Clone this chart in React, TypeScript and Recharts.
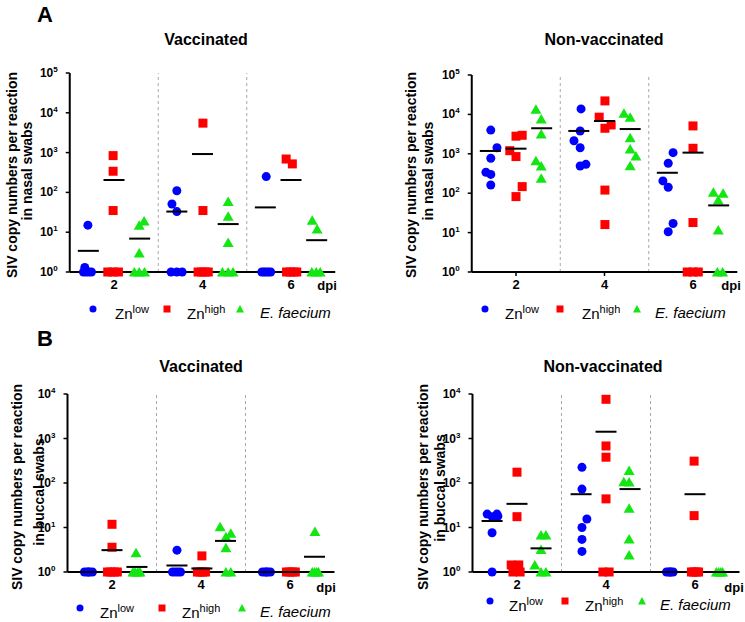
import { ScatterChart, Scatter, XAxis, YAxis, ReferenceLine } from 'recharts';

const font = "'Liberation Sans', Arial, Helvetica, sans-serif";
const BLUE = '#0000ff';
const RED = '#ff0000';
const GREEN = '#14e614';

const dpiTicks = [2, 4, 6];
const groupBreaks = [3, 5];
const nasalTicks = [1, 10, 100, 1000, 10000, 100000];
const buccalTicks = [1, 10, 100, 1000, 10000];
const yLabelTop = 'SIV copy numbers per reaction';
const yLabelNasal = 'in nasal swabs';
const yLabelBuccal = 'in buccal swabs';
const seriesNames = ['low', 'high', 'E. faecium'];

// A, vaccinated (nasal swabs)
const nasalVacLow = [
  { dpi: 1.34, copies: 1.3 }, { dpi: 1.41, copies: 15 }, { dpi: 1.31, copies: 1 }, { dpi: 1.37, copies: 1 }, { dpi: 1.43, copies: 1 }, { dpi: 1.49, copies: 1 },
  { dpi: 3.31, copies: 51 }, { dpi: 3.42, copies: 110 }, { dpi: 3.42, copies: 33 }, { dpi: 3.29, copies: 1 }, { dpi: 3.42, copies: 1 }, { dpi: 3.54, copies: 1 },
  { dpi: 5.44, copies: 250 }, { dpi: 5.34, copies: 1 }, { dpi: 5.39, copies: 1 }, { dpi: 5.44, copies: 1 }, { dpi: 5.49, copies: 1 }, { dpi: 5.54, copies: 1 },
];
const nasalVacHigh = [
  { dpi: 1.98, copies: 840 }, { dpi: 1.98, copies: 340 }, { dpi: 1.98, copies: 35 }, { dpi: 1.86, copies: 1 }, { dpi: 1.98, copies: 1 }, { dpi: 2.1, copies: 1 },
  { dpi: 4.01, copies: 5500 }, { dpi: 4.01, copies: 35 }, { dpi: 3.9, copies: 1 }, { dpi: 3.98, copies: 1 }, { dpi: 4.06, copies: 1 }, { dpi: 4.13, copies: 1 },
  { dpi: 5.89, copies: 690 }, { dpi: 6.03, copies: 520 }, { dpi: 5.9, copies: 1 }, { dpi: 5.98, copies: 1 }, { dpi: 6.06, copies: 1 }, { dpi: 6.13, copies: 1 },
];
const nasalVacFae = [
  { dpi: 2.57, copies: 3 }, { dpi: 2.57, copies: 15 }, { dpi: 2.68, copies: 19 }, { dpi: 2.46, copies: 1 }, { dpi: 2.57, copies: 1 }, { dpi: 2.69, copies: 1 },
  { dpi: 4.58, copies: 59 }, { dpi: 4.58, copies: 25 }, { dpi: 4.58, copies: 5.5 }, { dpi: 4.45, copies: 1 }, { dpi: 4.58, copies: 1 }, { dpi: 4.69, copies: 1 },
  { dpi: 6.48, copies: 20 }, { dpi: 6.59, copies: 12 }, { dpi: 6.47, copies: 1 }, { dpi: 6.57, copies: 1 }, { dpi: 6.66, copies: 1 },
];
const nasalVacMed = [
  { dpi: 1.42, copies: 3.4 }, { dpi: 2, copies: 205 }, { dpi: 2.58, copies: 6.9 },
  { dpi: 3.42, copies: 33 }, { dpi: 4, copies: 920 }, { dpi: 4.58, copies: 16 },
  { dpi: 5.42, copies: 42 }, { dpi: 6, copies: 205 }, { dpi: 6.58, copies: 6.3 },
];

// A, non-vaccinated (nasal swabs)
const nasalNonLow = [
  { dpi: 1.43, copies: 4000 }, { dpi: 1.57, copies: 1420 }, { dpi: 1.43, copies: 770 }, { dpi: 1.32, copies: 340 }, { dpi: 1.43, copies: 300 }, { dpi: 1.43, copies: 162 },
  { dpi: 3.47, copies: 13800 }, { dpi: 3.45, copies: 3800 }, { dpi: 3.31, copies: 2150 }, { dpi: 3.45, copies: 1420 }, { dpi: 3.45, copies: 490 }, { dpi: 3.58, copies: 540 },
  { dpi: 5.55, copies: 1070 }, { dpi: 5.44, copies: 575 }, { dpi: 5.32, copies: 205 }, { dpi: 5.44, copies: 142 }, { dpi: 5.55, copies: 17 }, { dpi: 5.44, copies: 10.5 },
];
const nasalNonHigh = [
  { dpi: 2, copies: 2800 }, { dpi: 2.14, copies: 2950 }, { dpi: 1.86, copies: 1200 }, { dpi: 2, copies: 850 }, { dpi: 2.14, copies: 147 }, { dpi: 2, copies: 82 },
  { dpi: 4.01, copies: 22000 }, { dpi: 3.88, copies: 8500 }, { dpi: 4.01, copies: 4450 }, { dpi: 4.15, copies: 5400 }, { dpi: 4.01, copies: 120 }, { dpi: 4.01, copies: 16 },
  { dpi: 6, copies: 5100 }, { dpi: 6, copies: 1380 }, { dpi: 6, copies: 18 }, { dpi: 5.87, copies: 1 }, { dpi: 6, copies: 1 }, { dpi: 6.12, copies: 1 },
];
const nasalNonFae = [
  { dpi: 2.45, copies: 13500 }, { dpi: 2.57, copies: 7600 }, { dpi: 2.57, copies: 3200 }, { dpi: 2.45, copies: 670 }, { dpi: 2.57, copies: 490 }, { dpi: 2.57, copies: 240 },
  { dpi: 4.44, copies: 10700 }, { dpi: 4.58, copies: 8500 }, { dpi: 4.58, copies: 2550 }, { dpi: 4.58, copies: 1320 }, { dpi: 4.71, copies: 880 }, { dpi: 4.58, copies: 500 },
  { dpi: 6.46, copies: 105 }, { dpi: 6.68, copies: 100 }, { dpi: 6.57, copies: 67 }, { dpi: 6.57, copies: 11.7 }, { dpi: 6.55, copies: 1 }, { dpi: 6.67, copies: 1 },
];
const nasalNonMed = [
  { dpi: 1.42, copies: 1180 }, { dpi: 2, copies: 1350 }, { dpi: 2.58, copies: 4450 },
  { dpi: 3.42, copies: 3800 }, { dpi: 4, copies: 6800 }, { dpi: 4.58, copies: 4250 },
  { dpi: 5.42, copies: 330 }, { dpi: 6, copies: 1070 }, { dpi: 6.58, copies: 49 },
];

// B, vaccinated (buccal swabs)
const buccalVacLow = [
  { dpi: 1.38, copies: 1 }, { dpi: 1.44, copies: 1 }, { dpi: 1.5, copies: 1 }, { dpi: 1.56, copies: 1 }, { dpi: 1.47, copies: 1 },
  { dpi: 3.46, copies: 3.1 }, { dpi: 3.36, copies: 1 }, { dpi: 3.42, copies: 1 }, { dpi: 3.48, copies: 1 }, { dpi: 3.54, copies: 1 },
  { dpi: 5.38, copies: 1 }, { dpi: 5.44, copies: 1 }, { dpi: 5.5, copies: 1 }, { dpi: 5.56, copies: 1 }, { dpi: 5.47, copies: 1 },
];
const buccalVacHigh = [
  { dpi: 2, copies: 11.8 }, { dpi: 2, copies: 3.6 }, { dpi: 1.9, copies: 1 }, { dpi: 1.97, copies: 1 }, { dpi: 2.05, copies: 1 }, { dpi: 2.12, copies: 1 },
  { dpi: 4.02, copies: 2.3 }, { dpi: 3.92, copies: 1 }, { dpi: 3.98, copies: 1 }, { dpi: 4.04, copies: 1 }, { dpi: 4.1, copies: 1 },
  { dpi: 5.92, copies: 1 }, { dpi: 5.99, copies: 1 }, { dpi: 6.06, copies: 1 }, { dpi: 6.12, copies: 1 },
];
const buccalVacFae = [
  { dpi: 2.54, copies: 2.7 }, { dpi: 2.47, copies: 1 }, { dpi: 2.52, copies: 1 }, { dpi: 2.58, copies: 1 }, { dpi: 2.63, copies: 1 },
  { dpi: 4.43, copies: 10.4 }, { dpi: 4.56, copies: 6.2 }, { dpi: 4.67, copies: 7.4 }, { dpi: 4.56, copies: 3.5 }, { dpi: 4.56, copies: 1 }, { dpi: 4.67, copies: 1 },
  { dpi: 6.56, copies: 8.1 }, { dpi: 6.5, copies: 1 }, { dpi: 6.55, copies: 1 }, { dpi: 6.6, copies: 1 }, { dpi: 6.64, copies: 1 },
];
const buccalVacMed = [
  { dpi: 1.42, copies: 1 }, { dpi: 2, copies: 3.1 }, { dpi: 2.56, copies: 1.3 },
  { dpi: 3.46, copies: 1.4 }, { dpi: 4.02, copies: 1.2 }, { dpi: 4.55, copies: 5 },
  { dpi: 5.42, copies: 1 }, { dpi: 6, copies: 1 }, { dpi: 6.55, copies: 2.2 },
];

// B, non-vaccinated (buccal swabs)
const buccalNonLow = [
  { dpi: 1.33, copies: 20 }, { dpi: 1.44, copies: 17.5 }, { dpi: 1.55, copies: 20 }, { dpi: 1.57, copies: 18 }, { dpi: 1.44, copies: 7.6 }, { dpi: 1.44, copies: 1 },
  { dpi: 3.46, copies: 225 }, { dpi: 3.46, copies: 73 }, { dpi: 3.57, copies: 15.5 }, { dpi: 3.46, copies: 10 }, { dpi: 3.46, copies: 5.4 }, { dpi: 3.46, copies: 2.9 },
  { dpi: 5.36, copies: 1 }, { dpi: 5.41, copies: 1 }, { dpi: 5.46, copies: 1 }, { dpi: 5.51, copies: 1 }, { dpi: 5.44, copies: 1 },
];
const buccalNonHigh = [
  { dpi: 2, copies: 175 }, { dpi: 2, copies: 17.5 }, { dpi: 1.87, copies: 1.44 }, { dpi: 2.04, copies: 1.44 }, { dpi: 1.91, copies: 1 }, { dpi: 2.07, copies: 1 },
  { dpi: 4, copies: 7600 }, { dpi: 4, copies: 680 }, { dpi: 4, copies: 380 }, { dpi: 4, copies: 44 }, { dpi: 3.93, copies: 1 }, { dpi: 4.07, copies: 1 },
  { dpi: 5.98, copies: 310 }, { dpi: 5.98, copies: 18.5 }, { dpi: 5.92, copies: 1 }, { dpi: 5.97, copies: 1 }, { dpi: 6.03, copies: 1 }, { dpi: 6.08, copies: 1 },
];
const buccalNonFae = [
  { dpi: 2.54, copies: 6.8 }, { dpi: 2.65, copies: 6.8 }, { dpi: 2.54, copies: 3.2 }, { dpi: 2.4, copies: 1.44 }, { dpi: 2.54, copies: 1 }, { dpi: 2.65, copies: 1 },
  { dpi: 4.52, copies: 190 }, { dpi: 4.4, copies: 107 }, { dpi: 4.52, copies: 105 }, { dpi: 4.52, copies: 27 }, { dpi: 4.52, copies: 5.5 }, { dpi: 4.52, copies: 2.4 },
  { dpi: 6.48, copies: 1 }, { dpi: 6.53, copies: 1 }, { dpi: 6.58, copies: 1 }, { dpi: 6.62, copies: 1 },
];
const buccalNonMed = [
  { dpi: 1.44, copies: 14 }, { dpi: 2, copies: 34 }, { dpi: 2.54, copies: 3.4 },
  { dpi: 3.44, copies: 56 }, { dpi: 4, copies: 1420 }, { dpi: 4.54, copies: 73 },
  { dpi: 5.42, copies: 1 }, { dpi: 6, copies: 56 }, { dpi: 6.58, copies: 1 },
];

const circleShape = (p: any) => <circle cx={p.cx} cy={p.cy} r={4.5} fill={BLUE} />;
const squareShape = (p: any) => <rect x={p.cx - 4.5} y={p.cy - 4.5} width={9} height={9} fill={RED} />;
const triangleShape = (p: any) => (
  <polygon points={`${p.cx},${p.cy - 5} ${p.cx + 5.5},${p.cy + 4.5} ${p.cx - 5.5},${p.cy + 4.5}`} fill={GREEN} />
);
const barShape = (p: any) => (
  <line x1={p.cx - 10.5} x2={p.cx + 10.5} y1={p.cy} y2={p.cy} stroke="#000" strokeWidth={2} />
);

function PowTick(props: any) {
  const { x, y, payload } = props;
  const exp = Math.round(Math.log10(payload.value));
  return (
    <text x={x} y={y} textAnchor="end" fill="#000" fontFamily={font} fontWeight={700} fontSize={12}>
      <tspan dy={4}>10</tspan>
      <tspan dy={-5} fontSize={8}>{exp}</tspan>
    </text>
  );
}

function Panel({ left, top, width, height, margin, ticks, low, high, fae, med }: any) {
  return (
    <div style={{ position: 'absolute', left, top }}>
      <ScatterChart width={width} height={height} margin={margin}>
        <XAxis
          type="number"
          dataKey="dpi"
          domain={[1, 7]}
          ticks={dpiTicks}
          height={20}
          axisLine={{ stroke: '#000', strokeWidth: 2 }}
          tickLine={{ stroke: '#000', strokeWidth: 1.5 }}
          tickSize={4}
          tickMargin={4}
          tick={{ fill: '#000', fontSize: 13, fontWeight: 700, fontFamily: font }}
        />
        <YAxis
          type="number"
          dataKey="copies"
          scale="log"
          domain={[1, ticks[ticks.length - 1]]}
          ticks={ticks}
          width={60}
          axisLine={{ stroke: '#000', strokeWidth: 2 }}
          tickLine={{ stroke: '#000', strokeWidth: 1.5 }}
          tickSize={4}
          tickMargin={8}
          tick={(p: any) => <PowTick {...p} />}
        />
        {groupBreaks.map((b) => (
          <ReferenceLine key={b} x={b} stroke="#a8a8a8" strokeDasharray="3 3" />
        ))}
        <Scatter data={low} shape={circleShape} isAnimationActive={false} />
        <Scatter data={high} shape={squareShape} isAnimationActive={false} />
        <Scatter data={fae} shape={triangleShape} isAnimationActive={false} />
        <Scatter data={med} shape={barShape} isAnimationActive={false} />
      </ScatterChart>
    </div>
  );
}

function Txt({ x, y, size, bold, italic, rotate, align = 'center', children }: any) {
  const tx = align === 'center' ? '-50%' : '0';
  return (
    <div
      style={{
        position: 'absolute', left: x, top: y, fontSize: size, lineHeight: 1,
        fontWeight: bold ? 700 : 400, fontStyle: italic ? 'italic' : 'normal',
        whiteSpace: 'nowrap', color: '#000',
        transform: `translate(${tx}, -50%)${rotate ? ' rotate(-90deg)' : ''}`,
      }}
    >
      {children}
    </div>
  );
}

function Key({ xs, y }: any) {
  const my = y - 3;
  return (
    <>
      <svg style={{ position: 'absolute', left: 0, top: 0, overflow: 'visible' }} width={1} height={1}>
        <circle cx={xs[0]} cy={my} r={3.5} fill={BLUE} />
        <rect x={xs[2] - 3.5} y={my - 3.5} width={7} height={7} fill={RED} />
        <polygon points={`${xs[4]},${my - 4} ${xs[4] + 4},${my + 3.5} ${xs[4] - 4},${my + 3.5}`} fill={GREEN} />
      </svg>
      <Txt x={xs[1]} y={y} size={15} align="left">Zn<sup style={{ fontSize: 11 }}>{seriesNames[0]}</sup></Txt>
      <Txt x={xs[3]} y={y} size={15} align="left">Zn<sup style={{ fontSize: 11 }}>{seriesNames[1]}</sup></Txt>
      <Txt x={xs[5]} y={y} size={15} italic align="left">{seriesNames[2]}</Txt>
    </>
  );
}

export default function App() {
  return (
    <div style={{ position: 'absolute', left: 0, top: 0, width: 745, height: 622, background: '#fff', fontFamily: font, overflow: 'hidden' }}>
      <Panel left={0} top={0} width={372} height={300} margin={{ top: 73, right: 36.75, bottom: 8, left: 9.75 }}
        ticks={nasalTicks} low={nasalVacLow} high={nasalVacHigh} fae={nasalVacFae} med={nasalVacMed} />
      <Panel left={372} top={0} width={373} height={300} margin={{ top: 75, right: 7.75, bottom: 8, left: 39.75 }}
        ticks={nasalTicks} low={nasalNonLow} high={nasalNonHigh} fae={nasalNonFae} med={nasalNonMed} />
      <Panel left={0} top={311} width={372} height={300} margin={{ top: 83, right: 37.5, bottom: 19, left: 7.5 }}
        ticks={buccalTicks} low={buccalVacLow} high={buccalVacHigh} fae={buccalVacFae} med={buccalVacMed} />
      <Panel left={372} top={311} width={373} height={300} margin={{ top: 83, right: 5.5, bottom: 19, left: 40.5 }}
        ticks={buccalTicks} low={buccalNonLow} high={buccalNonHigh} fae={buccalNonFae} med={buccalNonMed} />

      <Txt x={45} y={15} size={22} bold>A</Txt>
      <Txt x={45} y={339} size={22} bold>B</Txt>

      <Txt x={206} y={40} size={16} bold>Vaccinated</Txt>
      <Txt x={604} y={40} size={16} bold>Non-vaccinated</Txt>
      <Txt x={201} y={367} size={16} bold>Vaccinated</Txt>
      <Txt x={603} y={367} size={16} bold>Non-vaccinated</Txt>

      <Txt x={12} y={175} size={14} bold rotate>{yLabelTop}</Txt>
      <Txt x={27} y={171} size={14} bold rotate>{yLabelNasal}</Txt>
      <Txt x={411} y={175} size={14} bold rotate>{yLabelTop}</Txt>
      <Txt x={428} y={171} size={14} bold rotate>{yLabelNasal}</Txt>
      <Txt x={17} y={487} size={14} bold rotate>{yLabelTop}</Txt>
      <Txt x={39} y={492} size={14} bold rotate>{yLabelBuccal}</Txt>
      <Txt x={423} y={487} size={14} bold rotate>{yLabelTop}</Txt>
      <Txt x={440} y={488} size={14} bold rotate>{yLabelBuccal}</Txt>

      <Txt x={327} y={285} size={13} bold>dpi</Txt>
      <Txt x={731} y={285} size={13} bold>dpi</Txt>
      <Txt x={326} y={587} size={13} bold>dpi</Txt>
      <Txt x={734} y={587} size={13} bold>dpi</Txt>

      <Key xs={[93, 115, 167, 187, 240, 260]} y={312} />
      <Key xs={[485, 505, 560, 582, 637, 655]} y={312} />
      <Key xs={[80, 100, 162, 182, 242, 260]} y={611} />
      <Key xs={[490, 509, 565, 585, 642, 660]} y={604} />
    </div>
  );
}
